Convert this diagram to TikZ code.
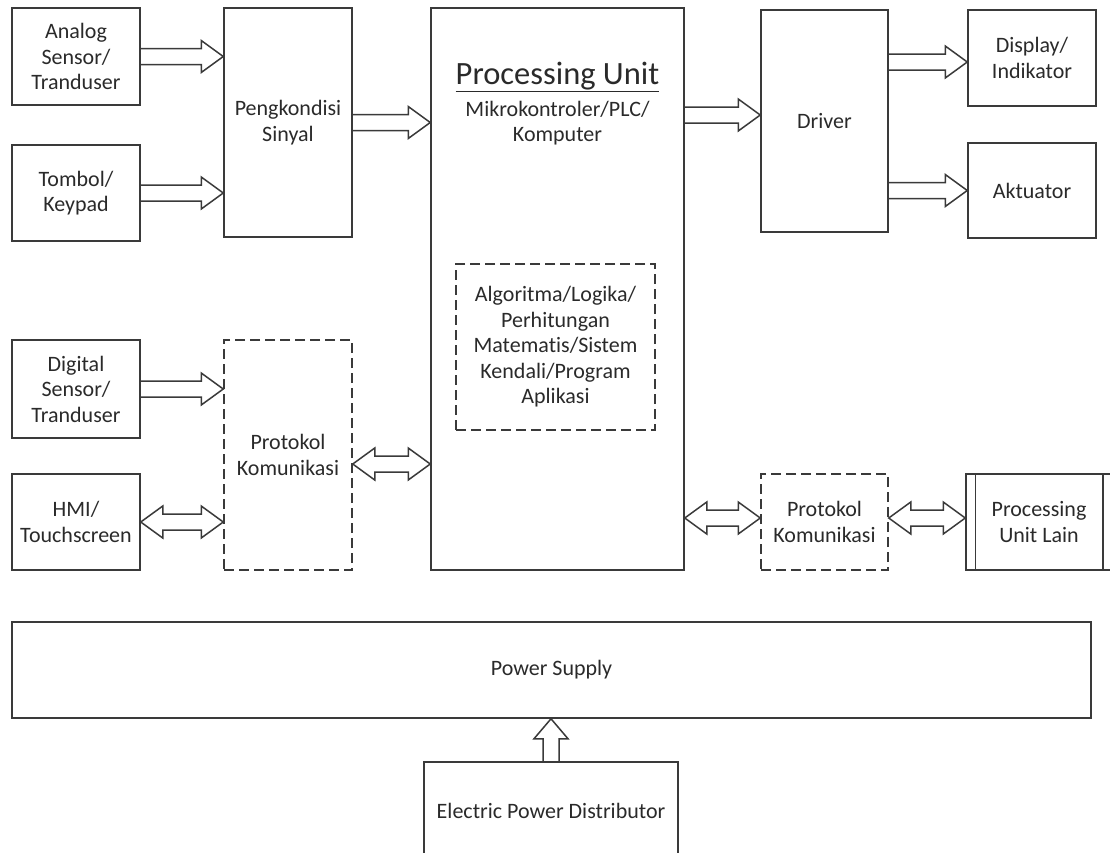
\documentclass[tikz,border=0pt]{standalone}
\usepackage{fontspec}
\setmainfont{Carlito}[Ligatures=NoCommon]
\usetikzlibrary{calc,backgrounds}
\definecolor{lc}{HTML}{3A3A3A}
\definecolor{tc}{HTML}{2A2A2A}
\tikzset{
  box/.style={draw=lc, line width=1.5pt, align=center, inner sep=0pt, text=tc,
    font=\fontsize{22}{25.5}\selectfont},
  dbox/.style={box, dash pattern=on 10pt off 5pt},
  barrow/.style={draw=lc, line width=1.5pt, fill=white, line join=miter},
}
\newcommand\harrow[2]{\draw[barrow] let \p1=(#1), \p2=(#2) in
  (\x1,\y1+8pt) -- (\x2-22pt,\y1+8pt) -- (\x2-22pt,\y1+16pt) -- (\x2,\y1)
  -- (\x2-22pt,\y1-16pt) -- (\x2-22pt,\y1-8pt) -- (\x1,\y1-8pt);}
\newcommand\dharrow[2]{\draw[barrow] let \p1=(#1), \p2=(#2) in
  (\x1,\y1) -- (\x1+22pt,\y1+16pt) -- (\x1+22pt,\y1+8pt) -- (\x2-22pt,\y1+8pt)
  -- (\x2-22pt,\y1+16pt) -- (\x2,\y1) -- (\x2-22pt,\y1-16pt) -- (\x2-22pt,\y1-8pt)
  -- (\x1+22pt,\y1-8pt) -- (\x1+22pt,\y1-16pt) -- cycle;}
\newcommand\vuarrow[2]{\draw[barrow] let \p1=(#1), \p2=(#2) in
  (\x1-8pt,\y1) -- (\x1-8pt,\y2-20pt) -- (\x1-17pt,\y2-20pt) -- (\x1,\y2)
  -- (\x1+17pt,\y2-20pt) -- (\x1+8pt,\y2-20pt) -- (\x1+8pt,\y1);}
\begin{document}
\begin{tikzpicture}[x=1pt,y=-1pt]
\useasboundingbox (0,0) rectangle (1110,852);
% boxes
\node[box, minimum width=128pt, minimum height=97pt] (analog) at (76,56.5) {Analog\\Sensor/\\Tranduser};
\node[box, minimum width=128pt, minimum height=96pt] (tombol) at (76,193) {Tombol/\\Keypad};
\node[box, minimum width=128pt, minimum height=229pt] (pengk) at (288,122.5) {Pengkondisi\\Sinyal};
\node[box, minimum width=253pt, minimum height=562pt] (pu) at (557.5,289) {};
\node[text=tc, font=\fontsize{32.5}{36}\selectfont, inner sep=0pt] (putitle) at (557.5,77) {\underline{Processing Unit}};
\node[text=tc, align=center, font=\fontsize{22}{25.5}\selectfont, inner sep=0pt] (pusub) at (557.5,123) {Mikrokontroler/PLC/\\Komputer};
\node[dbox, minimum width=199pt, minimum height=166pt] (algo) at (555.5,347) {Algoritma/Logika/\\Perhitungan\\Matematis/Sistem\\Kendali/Program\\Aplikasi};
\node[box, minimum width=127pt, minimum height=222pt] (driver) at (824.5,121) {Driver};
\node[box, minimum width=128pt, minimum height=96pt] (display) at (1032,58) {Display/\\Indikator};
\node[box, minimum width=128pt, minimum height=95pt] (aktuator) at (1032,190.5) {Aktuator};
\node[box, minimum width=128pt, minimum height=98pt] (digital) at (76,389) {Digital\\Sensor/\\Tranduser};
\node[box, minimum width=128pt, minimum height=96pt] (hmi) at (76,522) {HMI/\\Touchscreen};
\node[dbox, minimum width=128pt, minimum height=230pt] (protL) at (288,455) {Protokol\\Komunikasi};
\node[dbox, minimum width=127pt, minimum height=96pt] (protR) at (824.5,522) {Protokol\\Komunikasi};
\node[box, minimum width=146pt, minimum height=96pt] (pul) at (1039,522) {Processing\\Unit Lain};
\draw[lc, line width=1.5pt] ([xshift=10pt]pul.north west) -- ([xshift=10pt]pul.south west);
\draw[lc, line width=1.5pt] ([xshift=-10pt]pul.north east) -- ([xshift=-10pt]pul.south east);
\node[box, minimum width=1079pt, minimum height=96pt] (power) at (551.5,670) {Power Supply};
\node[box, minimum width=254pt, minimum height=98pt] (epd) at (551,811) {Electric Power Distributor};
% helper coordinates
\coordinate (d1) at ([yshift=6pt]driver.west);
\coordinate (d2) at ([yshift=-4pt]display.west);
\coordinate (p1) at ([yshift=-9pt]protL.east);
\coordinate (p2) at ([yshift=4pt]protR.west);
% arrows
\begin{scope}[on background layer]
\harrow{analog.east}{pengk.west |- analog.east}
\harrow{tombol.east}{pengk.west |- tombol.east}
\harrow{pengk.east}{pu.west |- pengk.east}
\harrow{pu.east |- d1}{d1}
\harrow{driver.east |- d2}{d2}
\harrow{driver.east |- aktuator.west}{aktuator.west}
\harrow{digital.east}{protL.west |- digital.east}
\dharrow{hmi.east}{protL.west |- hmi.east}
\dharrow{p1}{pu.west |- p1}
\dharrow{pu.east |- p2}{p2}
\dharrow{protR.east |- p2}{pul.west |- p2}
\vuarrow{epd.north}{power.south}
\end{scope}
\end{tikzpicture}
\end{document}
